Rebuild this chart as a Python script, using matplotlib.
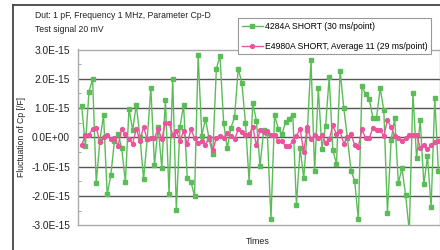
import matplotlib
matplotlib.use("Agg")
from matplotlib import pyplot as plt
from matplotlib import ticker
from matplotlib.lines import Line2D
import numpy as np

# values, in units of 1E-15 F
green_4284a = [
    1.07, -0.30, 1.56, 1.99, -1.55, -0.12, 0.78, -1.94, -1.30, -0.12,
    0.12, -0.37, -1.52, 0.98, 0.25, 1.11, 0.02, -1.42, -0.07, 1.69,
    -0.95, 0.36, -1.03, 1.27, -1.94, 2.01, -2.48, 0.36, 1.10, -1.40,
    -1.51, -2.00, 2.80, 0.05, 0.64, -0.05, -0.58, 2.35, 2.77, 0.48,
    -0.37, 0.33, 0.69, 2.35, 1.86, 0.48, -1.51,
    1.18, 0.56, -0.98, 0.25, 0.15, -2.80, 0.75, 0.30, 0.10, 0.53,
    0.64, 0.78, -2.31, -0.37, -1.38, 0.25, 2.63, -1.15, 1.67, -0.38,
    0.39, 2.06, -0.44, -0.90, 2.28, 1.01, -0.03, -1.13, -1.49, -2.80,
    1.75, 1.47, 1.30, 0.67, 0.67, 1.67, 0.93, -2.57, -0.10, 0.65,
    -1.55, -1.06, -1.98, -3.20, 1.52, -0.72, 0.58, -1.60, -0.64, -2.38,
    1.33, -1.15,
]
pink_e4980a = [
    -0.27, 0.08, 0.08, 0.30, 0.33, -0.16, 0.02, 0.08, -0.07, -0.01,
    -0.30, 0.30, 0.10, -0.05, -0.22, 0.30, -0.12, 0.36, -0.07, -0.03,
    -0.03, 0.30, -0.07, 0.50, 0.50, 0.08, 0.22, -0.12, 0.22, -0.22,
    0.27, -0.01, -0.20, -0.12, -0.27, 0.02, -0.44, -0.01, 0.05, -0.01,
    0.16, 0.05, -0.07, 0.27, 0.18, 0.07, 0.10,
    0.36, -0.27, 0.25, 0.18, 0.22, 0.08, 0.08, -0.12, -0.12, -0.30,
    -0.30, -0.12, 0.05, 0.30, -0.50, 0.36, -0.07, 0.08, -0.03, 0.08,
    -0.18, -0.07, 0.41, 0.10, 0.22, -0.22, 0.02, 0.12, -0.27, -0.32,
    0.27, -0.03, -0.03, 0.33, 0.25, 0.25, 0.05, 0.59, 0.35, 0.05,
    -0.03, -0.12, -0.03, 0.07, 0.08, 0.07, -0.35, -0.27, -0.39, -0.27,
    -0.16, -0.12,
]
y_ticks = [-3, -2, -1, 0, 1, 2, 3]
label_green = "4284A SHORT (30 ms/point)"
label_pink = "E4980A SHORT, Average 11 (29 ms/point)"
title_lines = ["Dut: 1 pF, Frequency 1 MHz, Parameter Cp-D", "Test signal 20 mV"]

plt.rcParams['font.family'] = ['Liberation Sans', 'DejaVu Sans']

W, H = 440, 250
fig = plt.figure(figsize=(W / 100, H / 100), dpi=100)
ax = fig.add_axes([78.3 / W, 24.7 / H, (439.5 - 78.3) / W, 175.8 / H])

x_g = np.arange(1, len(green_4284a) + 1)
x_p = np.arange(1, len(pink_e4980a) + 1)
scale = 1e-15

green = "#5bbd57"
pink = "#e8559b"
ax.plot(x_g, np.array(green_4284a) * scale, color=green, lw=1.0, marker="s",
        ms=3.0, mec=green, mfc=green, label=label_green, zorder=3)
ax.plot(x_p, np.array(pink_e4980a) * scale, color=pink, lw=1.0, marker="o",
        ms=2.8, mec=pink, mfc=pink, label=label_pink, zorder=4)

ax.set_xlim(0.07, 99.3)
ax.set_ylim(-3e-15, 3e-15)

# grid lines at inner ticks
for v in y_ticks[1:-1]:
    ax.axhline(v * scale, color="#555555", lw=1.0, zorder=1)

ax.set_yticks([v * scale for v in y_ticks])
ax.yaxis.set_major_formatter(ticker.FuncFormatter(lambda v, p: "{:.1E}".format(v)))
ax.yaxis.set_minor_locator(ticker.MultipleLocator(0.5e-15))
ax.tick_params(axis="y", which="major", length=0, pad=6, labelsize=7.3, colors="#222222")
ax.tick_params(axis="y", which="minor", length=2.5, direction="in", color="#999999")
ax.set_xticks([])
ax.yaxis.get_offset_text().set_visible(False)

for s in ["top", "bottom", "left", "right"]:
    ax.spines[s].set_color("#aaaaaa")
    ax.spines[s].set_linewidth(1.0)

# text
fs = 6.2
fig.text(35 / W, 1 - 15 / H, title_lines[0], fontsize=fs, va="center", ha="left", color="#222222")
fig.text(35 / W, 1 - 29 / H, title_lines[1], fontsize=fs, va="center", ha="left", color="#222222")
fig.text(22 / W, 1 - 137 / H, "Fluctuation of Cp [/F]", rotation=90, fontsize=fs,
         va="center", ha="center", color="#222222")
fig.text(258 / W, 1 - 241 / H, "Times", fontsize=6.4, va="center", ha="center", color="#222222")

# outer frame
fig.add_artist(Line2D([13.3 / W, 13.3 / W], [0, 1 - 5 / H], transform=fig.transFigure,
                      color="#444444", lw=1.3))
fig.add_artist(Line2D([13.3 / W, 1], [1 - 5 / H, 1 - 5 / H], transform=fig.transFigure,
                      color="#444444", lw=1.3))

leg = ax.legend(loc="upper left", bbox_to_anchor=(238.3 / W, 1 - 18.3 / H),
                bbox_transform=fig.transFigure, borderaxespad=0, fancybox=False,
                edgecolor="#999999", framealpha=1, fontsize=fs, labelspacing=1.3,
                handlelength=2.45, handletextpad=0.3, borderpad=0.4)
leg.get_frame().set_linewidth(0.8)
leg.set_zorder(10)

fig.savefig("out.png", dpi=100)
